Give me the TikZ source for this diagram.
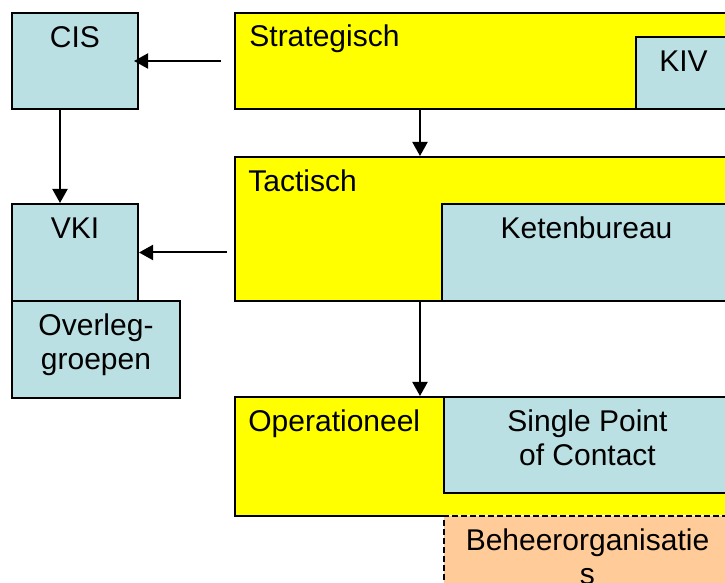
\documentclass[tikz,border=0pt]{standalone}
\usepackage{fontspec}
\setmainfont{Liberation Sans}
\usetikzlibrary{arrows.meta, fit}

\definecolor{lvlyellow}{RGB}{255,255,0}
\definecolor{unitblue}{RGB}{187,224,227}
\definecolor{beheerpeach}{RGB}{255,204,153}

\begin{document}
\begin{tikzpicture}[x=0.5pt, y=-0.5pt,
        level/.style={draw=black, line width=1pt, fill=lvlyellow},
        unit/.style={draw=black, line width=1pt, fill=unitblue},
        beheer/.style={fill=beheerpeach, draw=black, line width=1pt, dash pattern=on 3pt off 1.5pt, preaction={draw=white, solid}},
        txt/.style={font=\fontsize{15}{17}\selectfont, align=center, anchor=base},
        arr/.style={draw=black, line width=1pt, -{Triangle[length=7pt, width=7.5pt]}}]
        \tikzstyle{every node}+=[inner sep=0pt]
        \useasboundingbox (0,0) rectangle (725,583);
        % levels and units
        \node [level, fit={(235,13) (731,109)}] (strat) {};
        \node [unit, fit={(636,37) (731,109)}] (kiv) {};
        \node [unit, fit={(12,13) (138,109)}] (cis) {};
        \node [level, fit={(235,157) (731,301)}] (tact) {};
        \node [unit, fit={(442,204) (731,301)}] (keten) {};
        \node [unit, fit={(12,204) (138,301)}] (vki) {};
        \node [unit, fit={(12,301) (180,398)}] (overleg) {};
        \node [level, fit={(235,397) (731,516)}] (oper) {};
        \node [unit, fit={(444,397) (731,493)}] (spoc) {};
        \node [beheer, fit={(444,516) (731,640)}] (beheerorg) {};
        % labels (base of a two-line label is its last line)
        \node [txt] (cislbl) at ([yshift=-17.75pt]cis.north) {CIS};
        \node [txt, anchor=base west] (stratlbl) at ([xshift=7.5pt, yshift=-17.5pt]strat.north west) {Strategisch};
        \node [txt] (kivlbl) at ([yshift=-18pt]kiv.north) {KIV};
        \node [txt, anchor=base west] (tactlbl) at ([xshift=7pt, yshift=-18pt]tact.north west) {Tactisch};
        \node [txt] (ketenlbl) at ([yshift=-17.75pt]keten.north) {Ketenbureau};
        \node [txt] (vkilbl) at ([yshift=-17.75pt]vki.north) {VKI};
        \node [txt] (overleglbl) at ([yshift=-35pt]overleg.north) {Overleg-\\groepen};
        \node [txt, anchor=base west] (operlbl) at ([xshift=7pt, yshift=-18pt]oper.north west) {Operationeel};
        \node [txt] (spoclbl) at ([yshift=-35pt]spoc.north) {Single Point\\of Contact};
        \node [txt] (beheerlbl) at ([yshift=-35pt]beheerorg.north) {Beheerorganisatie\\s};
        % connectors
        \coordinate (spine) at (420,0);
        \draw [arr] (strat.south -| spine) -- (tact.north -| spine);
        \draw [arr] (tact.south -| spine) -- (oper.north -| spine);
        \draw [arr, shorten <=6.5pt, shorten >=-2.5pt] (strat.west |- cis.east) -- (cis.east);
        \draw [arr, shorten <=3.5pt] (tact.west |- vki.east) -- (vki.east);
        \draw [arr] ([xshift=-7.5pt]cis.south) -- ([xshift=-7.5pt]vki.north);
\end{tikzpicture}
\end{document}
